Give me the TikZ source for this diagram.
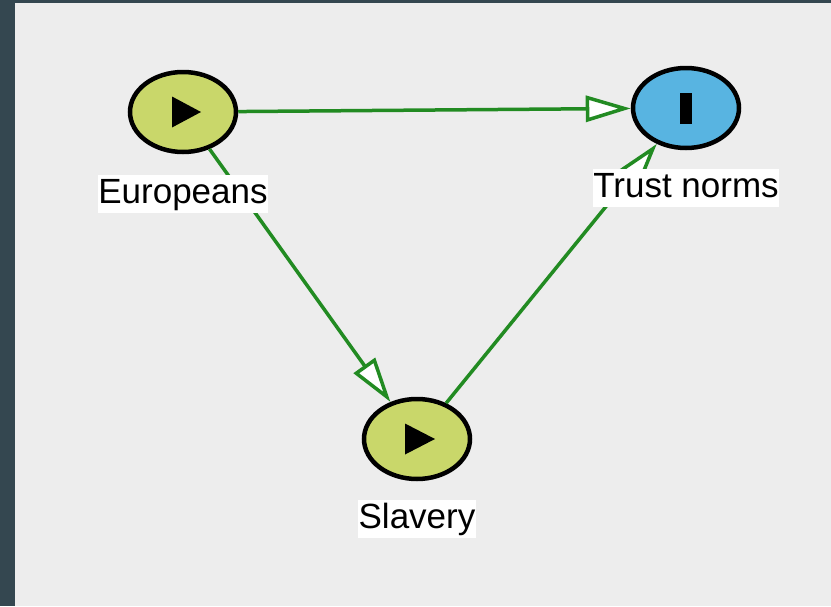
\documentclass[tikz,border=0pt]{standalone}
\usepackage{fontspec}
\setmainfont{Liberation Sans}
\usepackage{xcolor}
\usepackage{tikz}
\usetikzlibrary{arrows.meta,positioning,shapes.geometric}

\definecolor{slatebg}{RGB}{52,71,80}
\definecolor{canvasbg}{RGB}{237,237,237}
\definecolor{exofill}{RGB}{201,215,106}
\definecolor{outfill}{RGB}{88,180,225}
\definecolor{linkgreen}{RGB}{34,139,34}

\begin{document}
\begin{tikzpicture}[
    x=1pt, y=-1pt,
    font=\fontsize{35}{40}\selectfont,
    var/.style={draw, ellipse, line width=4.5pt, minimum width=106pt, minimum height=80pt},
    exo/.style={var, fill=exofill},
    outc/.style={var, fill=outfill},
    lbl/.style={fill=white, inner sep=0.5pt, text height=28pt, text depth=9pt},
    link/.style={-{Triangle[length=45pt, width=26pt, fill=white]}, line width=3.5pt, draw=linkgreen}
]
\useasboundingbox (0,0) rectangle (831,606);
\fill[slatebg] (0,0) rectangle (831,606);
\fill[canvasbg] (15,3) rectangle (831,606);

\node[exo] (eur) at (183,112) {};
\node[outc] (trust) at (686,108) {};
\node[exo] (slv) at (417,439) {};

% markers
\fill ([shift={(-11,-15.5)}]eur.center) -- ([shift={(18,0)}]eur.center) -- ([shift={(-11,15.5)}]eur.center) -- cycle;
\fill ([shift={(-12,-15.5)}]slv.center) -- ([shift={(18,0)}]slv.center) -- ([shift={(-12,15.5)}]slv.center) -- cycle;
\fill ([shift={(-6,-15.5)}]trust.center) rectangle ([shift={(6,15.5)}]trust.center);

\draw[link] (eur) -- (trust);
\draw[link] (eur) -- (slv);
\draw[link] (slv) -- (trust);

\node[lbl, below=21pt of eur] (eurlbl) {Europeans};
\node[lbl, below=19pt of trust] (trustlbl) {Trust norms};
\node[lbl, below=19pt of slv] (slvlbl) {Slavery};
\end{tikzpicture}
\end{document}
